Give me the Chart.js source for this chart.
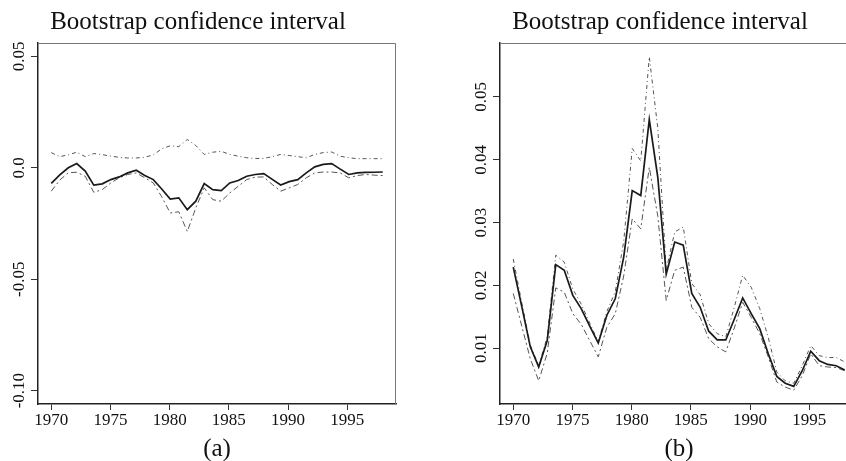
<!DOCTYPE html>
<html>
<head>
<meta charset="utf-8">
<title>Bootstrap confidence interval</title>
<script src="https://cdn.jsdelivr.net/npm/chart.js@4/dist/chart.umd.min.js"></script>
<style>
    html, body { margin: 0; padding: 0; background: #fff; overflow: hidden; width: 846px; height: 461px; }
    canvas { position: absolute; top: 0; }
    #chartA { left: 0; }
    #chartB { left: 462px; }
</style>
</head>
<body>
<canvas id="chartA" width="434" height="461"></canvas>
<canvas id="chartB" width="434" height="461"></canvas>
<script>
// Observation times (40 points, 1970 to 1998)
const years = [1970.00, 1970.72, 1971.44, 1972.15, 1972.87, 1973.59, 1974.31, 1975.03, 1975.74, 1976.46,
    1977.18, 1977.90, 1978.62, 1979.33, 1980.05, 1980.77, 1981.49, 1982.21, 1982.92, 1983.64,
    1984.36, 1985.08, 1985.79, 1986.51, 1987.23, 1987.95, 1988.67, 1989.38, 1990.10, 1990.82,
    1991.54, 1992.26, 1992.97, 1993.69, 1994.41, 1995.13, 1995.85, 1996.56, 1997.28, 1998.00];

// Panel (a)
const estimateA = [-0.0070, -0.0032, 0.0000, 0.0019, -0.0015, -0.0078, -0.0072, -0.0053, -0.0041, -0.0023,
    -0.0011, -0.0035, -0.0053, -0.0095, -0.0140, -0.0135, -0.0188, -0.0150, -0.0071, -0.0098,
    -0.0102, -0.0068, -0.0057, -0.0038, -0.0030, -0.0026, -0.0052, -0.0077, -0.0062, -0.0053,
    -0.0023, 0.0004, 0.0015, 0.0019, -0.0006, -0.0030, -0.0023, -0.0021, -0.0020, -0.0019];
const upperA = [0.0068, 0.0050, 0.0058, 0.0070, 0.0050, 0.0064, 0.0059, 0.0052, 0.0047, 0.0044,
    0.0044, 0.0047, 0.0058, 0.0085, 0.0099, 0.0095, 0.0127, 0.0100, 0.0060, 0.0070,
    0.0074, 0.0060, 0.0052, 0.0045, 0.0042, 0.0042, 0.0050, 0.0060, 0.0055, 0.0050,
    0.0045, 0.0060, 0.0068, 0.0071, 0.0052, 0.0045, 0.0041, 0.0041, 0.0041, 0.0041];
const lowerA = [-0.0105, -0.0055, -0.0022, -0.0020, -0.0038, -0.0110, -0.0098, -0.0068, -0.0045, -0.0030,
    -0.0023, -0.0045, -0.0068, -0.0130, -0.0203, -0.0197, -0.0286, -0.0180, -0.0090, -0.0143,
    -0.0150, -0.0113, -0.0083, -0.0053, -0.0042, -0.0041, -0.0075, -0.0105, -0.0090, -0.0075,
    -0.0045, -0.0023, -0.0019, -0.0019, -0.0023, -0.0045, -0.0035, -0.0030, -0.0033, -0.0035];

// Panel (b)
const estimateB = [0.0229, 0.0166, 0.0102, 0.0070, 0.0112, 0.0233, 0.0224, 0.0184, 0.0163, 0.0135,
    0.0108, 0.0152, 0.0179, 0.0245, 0.0351, 0.0343, 0.0464, 0.0372, 0.0218, 0.0269,
    0.0264, 0.0187, 0.0165, 0.0127, 0.0113, 0.0113, 0.0146, 0.0180, 0.0155, 0.0131,
    0.0091, 0.0055, 0.0044, 0.0039, 0.0064, 0.0095, 0.0080, 0.0074, 0.0072, 0.0065];
const upperB = [0.0242, 0.0172, 0.0105, 0.0072, 0.0118, 0.0248, 0.0237, 0.0194, 0.0170, 0.0140,
    0.0110, 0.0158, 0.0190, 0.0270, 0.0418, 0.0398, 0.0564, 0.0450, 0.0225, 0.0285,
    0.0293, 0.0203, 0.0185, 0.0139, 0.0123, 0.0118, 0.0165, 0.0216, 0.0197, 0.0163,
    0.0117, 0.0062, 0.0048, 0.0044, 0.0072, 0.0104, 0.0088, 0.0085, 0.0085, 0.0078];
const lowerB = [0.0187, 0.0135, 0.0083, 0.0048, 0.0092, 0.0196, 0.0189, 0.0155, 0.0138, 0.0112,
    0.0086, 0.0133, 0.0155, 0.0215, 0.0306, 0.0290, 0.0388, 0.0310, 0.0176, 0.0224,
    0.0229, 0.0165, 0.0149, 0.0115, 0.0102, 0.0094, 0.0132, 0.0173, 0.0149, 0.0123,
    0.0086, 0.0046, 0.0038, 0.0033, 0.0056, 0.0091, 0.0072, 0.0070, 0.0069, 0.0064];

// Axis ticks
const xTicks = [1970, 1975, 1980, 1985, 1990, 1995];
const yTicksA = [-0.10, -0.05, 0, 0.05];
const yTickLabelsA = ['-0.10', '-0.05', '0.0', '0.05'];
const yTicksB = [0.01, 0.02, 0.03, 0.04, 0.05];
const yTickLabelsB = ['0.01', '0.02', '0.03', '0.04', '0.05'];

const serif = 'Liberation Serif';

// draws top and right edges of the plot box
const boxPlugin = {
    id: 'box',
    afterDraw: function(chart) {
        const a = chart.chartArea;
        const ctx = chart.ctx;
        ctx.save();
        ctx.strokeStyle = '#777';
        ctx.lineWidth = 1;
        ctx.beginPath();
        ctx.moveTo(a.left, a.top + 0.5);
        ctx.lineTo(a.right - 0.5, a.top + 0.5);
        ctx.lineTo(a.right - 0.5, a.bottom);
        ctx.stroke();
        ctx.restore();
    }
};

function series(values) {
    return years.map(function(x, i) { return { x: x, y: values[i] }; });
}

function makeChart(canvasId, opts) {
    const ctx = document.getElementById(canvasId).getContext('2d');
    return new Chart(ctx, {
        type: 'line',
        data: {
            datasets: [{
                label: 'Estimate',
                data: series(opts.estimate),
                borderColor: '#1a1a1a',
                borderWidth: 1.7,
                pointRadius: 0,
                tension: 0
            }, {
                label: 'Upper',
                data: series(opts.upper),
                borderColor: '#555',
                borderWidth: 1,
                borderDash: [4, 3, 1, 3],
                pointRadius: 0,
                tension: 0
            }, {
                label: 'Lower',
                data: series(opts.lower),
                borderColor: '#555',
                borderWidth: 1,
                borderDash: [6, 3, 2, 3],
                pointRadius: 0,
                tension: 0
            }]
        },
        options: {
            responsive: false,
            animation: false,
            layout: { padding: { left: 0, right: 38, top: 0, bottom: 0 } },
            plugins: {
                legend: { display: false },
                tooltip: { enabled: false },
                title: {
                    display: true,
                    text: 'Bootstrap confidence interval',
                    color: '#111',
                    font: { family: serif, size: 25, weight: 'normal', lineHeight: 1.2 },
                    padding: { top: 7, bottom: 6 }
                }
            },
            scales: {
                x: {
                    type: 'linear',
                    min: 1968.88,
                    max: 1999.12,
                    afterBuildTicks: function(scale) {
                        scale.ticks = xTicks.map(function(v) { return { value: v }; });
                    },
                    afterFit: function(scale) { scale.height = 57; },
                    grid: { drawOnChartArea: false, drawTicks: true, tickLength: 6, color: '#333' },
                    border: { display: true, color: '#222', width: 1.5 },
                    ticks: {
                        autoSkip: false,
                        maxRotation: 0,
                        padding: 0,
                        color: '#111',
                        font: { family: serif, size: 17 },
                        callback: function(v) { return String(v); }
                    },
                    title: {
                        display: true,
                        text: opts.tag,
                        color: '#111',
                        font: { family: serif, size: 25, lineHeight: 0.9 },
                        padding: 0
                    }
                },
                y: {
                    type: 'linear',
                    min: opts.yMin,
                    max: opts.yMax,
                    afterBuildTicks: function(scale) {
                        scale.ticks = opts.yTicks.map(function(v) { return { value: v }; });
                    },
                    afterFit: function(scale) { scale.width = 38; },
                    grid: { drawOnChartArea: false, drawTicks: true, tickLength: 7, color: '#333' },
                    border: { display: true, color: '#222', width: 1.5 },
                    ticks: {
                        minRotation: 90,
                        maxRotation: 90,
                        crossAlign: 'center',
                        padding: opts.yPad,
                        color: '#111',
                        font: { family: serif, size: 17 },
                        callback: function(v) {
                            const i = opts.yTicks.indexOf(v);
                            return i >= 0 ? opts.yLabels[i] : '';
                        }
                    }
                }
            }
        },
        plugins: [boxPlugin]
    });
}

makeChart('chartA', {
    estimate: estimateA, upper: upperA, lower: lowerA,
    yMin: -0.106, yMax: 0.056,
    yTicks: yTicksA, yLabels: yTickLabelsA, yPad: -6,
    tag: '(a)'
});

makeChart('chartB', {
    estimate: estimateB, upper: upperB, lower: lowerB,
    yMin: 0.0011, yMax: 0.0586,
    yTicks: yTicksB, yLabels: yTickLabelsB, yPad: -3,
    tag: '(b)'
});
</script>
</body>
</html>
